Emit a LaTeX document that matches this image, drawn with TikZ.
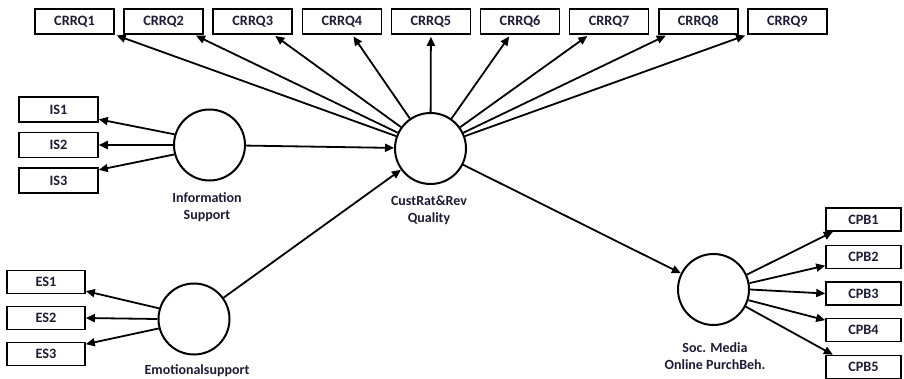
\documentclass[tikz,border=0pt]{standalone}
\usepackage{fontspec}
\setmainfont{Carlito}
\usetikzlibrary{arrows.meta,calc}
\definecolor{ink}{RGB}{28,28,52}
\begin{document}
\begin{tikzpicture}[x=1pt,y=-1pt,
  ind/.style={draw, line width=1.6pt, minimum width=79pt, minimum height=25pt,
    inner sep=0pt, font=\bfseries\fontsize{14.3}{16}\selectfont, text=ink},
  lat/.style={draw, circle, line width=2pt, minimum size=71pt, inner sep=0pt},
  lab/.style={font=\bfseries\fontsize{14}{17}\selectfont, text=ink, align=center},
  link/.style={line width=1.8pt, -{Triangle[length=9pt,width=8pt]}}
]
\useasboundingbox (0,0) rectangle (904,379);

% latent constructs
\node[lat] (cr) at (430.5,148.5) {};
\node[lat] (is) at (209.5,145) {};
\node[lat] (es) at (194,319) {};
\node[lat] (sm) at (713.5,289.5) {};

% construct labels
\node[lab] (isl) at (207,207.5) {Information\\Support};
\node[lab] (crl) at (429,210) {CustRat\&Rev\\Quality};
\node[lab] (sml) at (715,356) {Soc. Media\\Online PurchBeh.};
\node[lab] (esl) at (197,370.5) {Emotionalsupport};

% indicators of CustRat&Rev Quality
\foreach \i in {1,...,9}
  \node[ind] (q\i) at ({74.5+89.1*(\i-1)},21.5) {CRRQ\i};

% indicators of Information Support
\node[ind] (i1) at (58.5,109.5) {IS1};
\node[ind] (i2) at (58.5,145) {IS2};
\node[ind] (i3) at (58.5,180.5) {IS3};

% indicators of Emotional support
\node[ind, minimum width=78pt, minimum height=23pt] (e1) at (46,282) {ES1};
\node[ind, minimum width=78pt, minimum height=23pt] (e2) at (46,318) {ES2};
\node[ind, minimum width=78pt, minimum height=23pt] (e3) at (46,354) {ES3};

% indicators of Online Purchase Behaviour
\node[ind, minimum width=75pt, minimum height=23pt] (c1) at (863.5,219.5) {CPB1};
\node[ind, minimum width=75pt, minimum height=23pt] (c2) at (863.5,257) {CPB2};
\node[ind, minimum width=75pt, minimum height=23pt] (c3) at (863.5,293.5) {CPB3};
\node[ind, minimum width=75pt, minimum height=23pt] (c4) at (863.5,330) {CPB4};
\node[ind, minimum width=75pt, minimum height=23pt] (c5) at (863.5,367) {CPB5};

% structural paths
\draw[link] (is) -- (cr);
\draw[link] (es) -- (cr);
\draw[link] (cr) -- (sm);

% outer loadings of CustRat&Rev Quality
\draw[link, shorten >=2pt] (cr) -- ($(q1.south west)!1.00!(q1.south east)$);
\draw[link, shorten >=2pt] (cr) -- ($(q2.south west)!0.88!(q2.south east)$);
\draw[link, shorten >=2pt] (cr) -- ($(q3.south west)!0.76!(q3.south east)$);
\draw[link, shorten >=2pt] (cr) -- ($(q4.south west)!0.63!(q4.south east)$);
\draw[link, shorten >=2pt] (cr) -- ($(q5.south west)!0.50!(q5.south east)$);
\draw[link, shorten >=2pt] (cr) -- ($(q6.south west)!0.38!(q6.south east)$);
\draw[link, shorten >=2pt] (cr) -- ($(q7.south west)!0.25!(q7.south east)$);
\draw[link, shorten >=2pt] (cr) -- ($(q8.south west)!0.12!(q8.south east)$);
\draw[link, shorten >=2pt] (cr) -- ($(q9.south west)!0.00!(q9.south east)$);

% outer loadings of Information Support
\draw[link] (is.163) -- ($(i1.north east)!0.87!(i1.south east)$);
\draw[link] (is.180) -- (i2.east);
\draw[link] (is.195) -- ($(i3.north east)!0.10!(i3.south east)$);

% outer loadings of Emotional support
\draw[link] (es.163) -- ($(e1.north east)!0.87!(e1.south east)$);
\draw[link] (es.180) -- (e2.east);
\draw[link] (es.195) -- ($(e3.north east)!0.10!(e3.south east)$);

% outer loadings of Online Purchase Behaviour
\draw[link] (sm.24) -- ($(c1.south west)!0.10!(c1.south east)$);
\draw[link] (sm.10) -- ($(c2.north west)!0.85!(c2.south west)$);
\draw[link] (sm.0) -- (c3.west);
\draw[link] (sm.-17) -- ($(c4.north west)!0.10!(c4.south west)$);
\draw[link] (sm.-28) -- ($(c5.north west)!0.10!(c5.north east)$);
\end{tikzpicture}
\end{document}
